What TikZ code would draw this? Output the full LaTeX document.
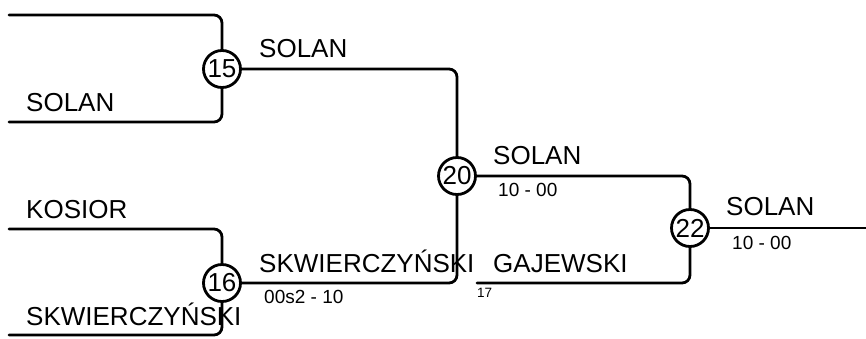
\documentclass[tikz,border=0pt]{standalone}
\usepackage{fontspec}
\setmainfont{Liberation Sans}
\pgfdeclarelayer{background}
\pgfsetlayers{background,main}
\begin{document}
\begin{tikzpicture}[x=1pt,y=-1pt,
  line/.style={line width=2.8pt, rounded corners=8pt, line cap=round},
  match/.style={circle, draw, line width=2.8pt, fill=white, minimum size=37pt, inner sep=0pt, font=\fontsize{26}{30}\selectfont},
  big/.style={anchor=base west, inner sep=0pt, font=\fontsize{26}{30}\selectfont},
  score/.style={anchor=base west, inner sep=0pt, font=\fontsize{19}{22}\selectfont},
  tiny/.style={anchor=base west, inner sep=0pt, font=\fontsize{13.5}{16}\selectfont}]
\useasboundingbox (0,0) rectangle (866,338);
% coordinates
\coordinate (a1) at (9,15);
\coordinate (a2) at (9,122);
\coordinate (b1) at (9,229);
\coordinate (b2) at (9,335);
\coordinate (c17) at (477,283);
\coordinate (fin) at (866,228);
% matches
\node[match] (m15) at (222,69) {15};
\node[match] (m16) at (222,283) {16};
\node[match] (m20) at (457,176) {20};
\node[match] (m22) at (690,228) {22};
% connectors
\begin{pgfonlayer}{background}
\draw[line] (a1) -| (m15.north);
\draw[line] (a2) -| (m15.south);
\draw[line] (b1) -| (m16.north);
\draw[line] (b2) -| (m16.south);
\draw[line] (m15.east) -| (m20.north);
\draw[line] (m16.east) -| (m20.south);
\draw[line] (m20.east) -| (m22.north);
\draw[line] (c17) -| (m22.south);
\draw[line] (m22.east) -- (fin);
\end{pgfonlayer}
% labels
\node[big] (t1) at (26,111) {SOLAN};
\node[big] (t2) at (26,218) {KOSIOR};
\node[big] (t3) at (26,325) {SKWIERCZYŃSKI};
\node[big] (t4) at (259,57) {SOLAN};
\node[big] (t5) at (259,272) {SKWIERCZYŃSKI};
\node[score] (s5) at (264,303) {00s2 - 10};
\node[big] (t6) at (493,164) {SOLAN};
\node[score] (s6) at (498,196) {10 - 00};
\node[big] (t7) at (493,272) {GAJEWSKI};
\node[tiny] (s7) at (477,297) {17};
\node[big] (t8) at (726,215) {SOLAN};
\node[score] (s8) at (732,249) {10 - 00};
\end{tikzpicture}
\end{document}
